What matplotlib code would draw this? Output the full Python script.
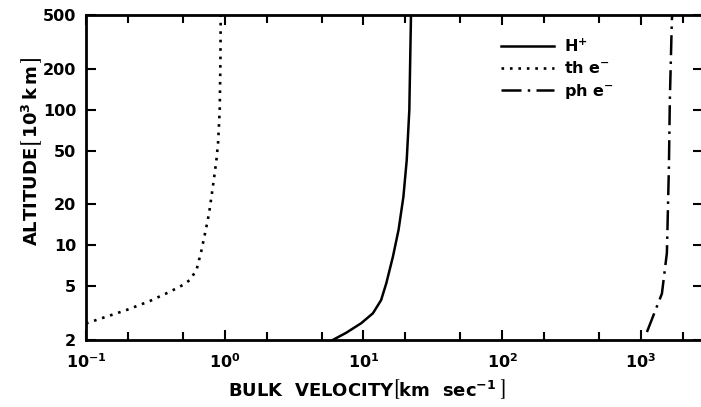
import numpy as np
import matplotlib.pyplot as plt
from matplotlib.ticker import LogLocator, FixedLocator, NullFormatter, FixedFormatter

plt.rcParams['font.family'] = 'DejaVu Sans'
plt.rcParams['font.weight'] = 'bold'
plt.rcParams['mathtext.default'] = 'regular'

# H+ bulk velocity profile
h_vel = [6.0, 7.5, 9.63, 11.7, 13.4, 14.6, 16.3, 17.9, 19.4, 20.5, 21.4, 22.0]
h_alt = [2.0, 2.26, 2.66, 3.15, 3.94, 5.24, 8.24, 13.0, 22.8, 42.6, 99.6, 500.0]

# thermal electrons
th_vel = [0.1, 0.196, 0.289, 0.402, 0.501, 0.56, 0.626, 0.68, 0.73, 0.771,
          0.802, 0.834, 0.871, 0.895, 0.92, 0.931, 0.935]
th_alt = [2.65, 3.33, 3.88, 4.54, 5.1, 5.54, 6.57, 9.2, 13.0, 17.2,
          22.8, 30.3, 42.6, 56.6, 99.6, 233.0, 500.0]

# photoelectrons
ph_vel = [1104, 1416, 1538, 1590, 1615, 1670, 1680]
ph_alt = [2.29, 4.4, 8.8, 37.8, 118.0, 459.0, 500.0]

y_ticks = [2, 5, 10, 20, 50, 100, 200, 500]

fig = plt.figure(figsize=(7.01, 4.07), dpi=100)
ax = fig.add_axes([86 / 701, 67 / 407, 617 / 701, 325 / 407])

ax.plot(h_vel, h_alt, color='black', lw=1.8, ls='-', label='H$^{+}$')
ax.plot(th_vel, th_alt, color='black', lw=1.9, ls=(0, (1, 2.2)), label='th e$^{-}$')
ax.plot(ph_vel, ph_alt, color='black', lw=1.8, ls=(0, (8, 2.5, 1, 2.5)), label='ph e$^{-}$')

ax.set_xscale('log')
ax.set_yscale('log')
ax.set_xlim(0.1, 2800)
ax.set_ylim(2, 500)

ax.xaxis.set_major_locator(LogLocator(base=10, numticks=10))
ax.xaxis.set_minor_locator(LogLocator(base=10, subs=(2, 5), numticks=10))
ax.xaxis.set_minor_formatter(NullFormatter())
ax.yaxis.set_major_locator(FixedLocator(y_ticks))
ax.yaxis.set_major_formatter(FixedFormatter([str(t) for t in y_ticks]))
ax.yaxis.set_minor_locator(FixedLocator([]))

ax.tick_params(which='both', direction='in', top=True, right=True, width=1.5,
               labelsize=11.5)
ax.tick_params(axis='x', pad=9)
ax.tick_params(axis='y', pad=7)
ax.tick_params(which='major', length=7)
ax.tick_params(which='minor', length=6)
for s in ax.spines.values():
    s.set_linewidth(2)

ax.set_xlabel(r'BULK  VELOCITY$\left[\mathrm{km\ \ sec^{-1}}_{\ }\right]$', fontsize=13,
              fontweight='bold')
ax.xaxis.set_label_coords(0.455, -0.115)
ax.set_ylabel(r'ALTITUDE$\left[\,10^{3}_{\ }\,\mathrm{k\,m}\,\right]$', fontsize=13,
              fontweight='bold')
ax.yaxis.set_label_coords(-0.068, 0.58)

ax.legend(loc='upper left', bbox_to_anchor=(0.65, 0.975), frameon=False, fontsize=11.5,
          handlelength=3.3, labelspacing=0.35, handletextpad=0.6)

fig.savefig('out.png', dpi=100)
